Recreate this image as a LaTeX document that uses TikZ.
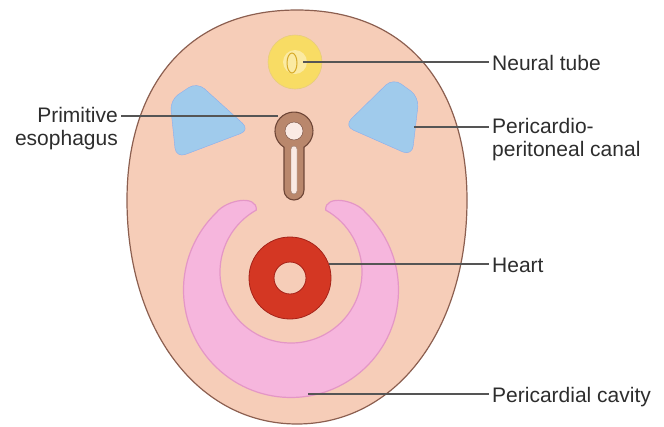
\documentclass[tikz,border=0pt]{standalone}
\usepackage{fontspec}
\setmainfont{Liberation Sans}

\definecolor{skin}{RGB}{246,205,184}
\definecolor{skinline}{RGB}{140,95,80}
\definecolor{tube}{RGB}{248,220,100}
\definecolor{tubedark}{RGB}{215,170,40}
\definecolor{canal}{RGB}{160,203,236}
\definecolor{gut}{RGB}{185,135,108}
\definecolor{gutdark}{RGB}{110,70,55}
\definecolor{gutlumen}{RGB}{250,234,228}
\definecolor{cavity}{RGB}{246,182,221}
\definecolor{cavityline}{RGB}{228,150,198}
\definecolor{heart}{RGB}{212,55,35}
\definecolor{heartdark}{RGB}{165,35,25}
\definecolor{leader}{RGB}{85,85,85}
\definecolor{labeltext}{RGB}{45,45,45}

\tikzset{
  leader/.style={draw=leader, line width=1.3pt},
  lbl/.style={inner sep=3pt, text=labeltext, font=\fontsize{21}{23}\selectfont},
}

\begin{document}
\begin{tikzpicture}[x=1pt, y=-1pt]
	\useasboundingbox (0,0) rectangle (664,426);
	% body wall
	\filldraw[fill=skin, draw=skinline, line width=1.2pt] (297,10) .. controls (410,10) and (467,90) .. (467,200)
		.. controls (467,330) and (396,424) .. (297,424) .. controls (198,424) and (127,330) .. (127,200)
		.. controls (127,90) and (184,10) .. (297,10);
	% pericardial cavity
	\filldraw[fill=cavity, draw=cavityline, line width=1.2pt]
		([shift={(291,290)}]-46.1:107.5) arc[start angle=-46.1, end angle=226.1, radius=107.5]
		.. controls (226,200) and (257,194) .. ([shift={(291,272)}]240.8:71)
		arc[start angle=240.8, end angle=-60.8, radius=71]
		.. controls (325,194) and (356,200) .. cycle;
	% heart
	\filldraw[fill=heart, draw=heartdark, line width=0.8pt, even odd rule] (290,278) circle[radius=41] (290,278) circle[radius=16];
	% neural tube
	\filldraw[fill=tube, draw=tubedark!60, line width=0.6pt] (295,62) circle[radius=27];
	\fill[tube!60!white] (295,62) circle[radius=12];
	\draw[tubedark, line width=1pt] (292,63) ellipse[x radius=5, y radius=10];
	% pericardio-peritoneal canals
	\filldraw[fill=canal, draw=canal!85!blue, rounded corners=10pt] (197,82) -- (250,130) -- (176,158) -- (170,100) -- cycle;
	\filldraw[fill=canal, draw=canal!85!blue, rounded corners=10pt] (393,78) -- (344,126) -- (412,156) -- (419,97) -- cycle;
	% primitive esophagus
	\filldraw[fill=gut, draw=gutdark, line width=1.1pt] (284,147.2) arc[start angle=121.7, end angle=418.3, radius=19]
		-- (304,190) arc[start angle=0, end angle=180, radius=10] -- cycle;
	\filldraw[fill=gutlumen, draw=gutdark] (294,131) circle[radius=9];
	\filldraw[fill=gutlumen, draw=gutdark!70, rounded corners=3pt] (291,146) rectangle (297,194);

	% leaders and labels
	\coordinate (nt) at (303,62);
	\coordinate (eso) at (278,116);
	\coordinate (ppc) at (414,127);
	\coordinate (ht) at (329,264);
	\coordinate (pc) at (308,394);
	\node[lbl, anchor=north west] (neural) at (489,52.5) {Neural tube};
	\node[lbl, anchor=north east, align=right] (esolbl) at (121,104) {Primitive\\esophagus};
	\node[lbl, anchor=north west, align=left] (ppclbl) at (489,115) {Pericardio-\\peritoneal canal};
	\node[lbl, anchor=north west] (heartlbl) at (489,255) {Heart};
	\node[lbl, anchor=north west] (pclbl) at (489,384) {Pericardial cavity};
	\draw[leader] (nt) -- (nt -| neural.west);
	\draw[leader] (eso) -- (eso -| esolbl.east);
	\draw[leader] (ppc) -- (ppc -| ppclbl.west);
	\draw[leader] (ht) -- (ht -| heartlbl.west);
	\draw[leader] (pc) -- (pc -| pclbl.west);
\end{tikzpicture}
\end{document}
